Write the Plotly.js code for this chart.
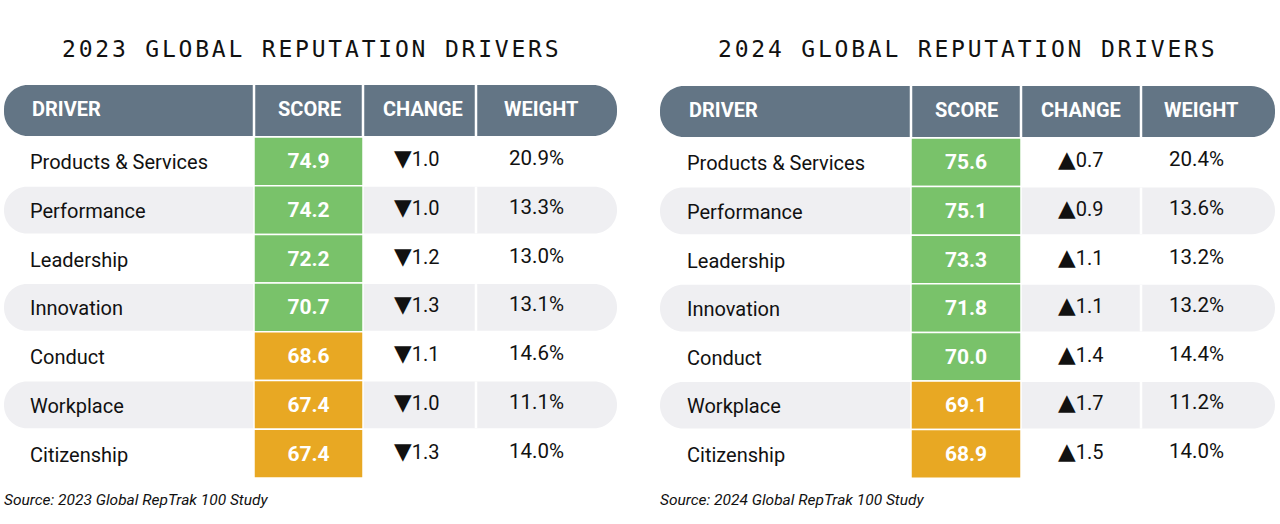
<!DOCTYPE html>
<html>
<head>
<meta charset="utf-8">
<script src="https://cdn.plot.ly/plotly-3.0.1.min.js"></script>
<style>
  html, body { margin: 0; padding: 0; background: #ffffff; }
  #chart { width: 1280px; height: 524px; }
  .annotation[data-index="0"] text, .annotation[data-index="1"] text { letter-spacing: 2.8px; }
</style>
</head>
<body>
<div id="chart"></div>
<script>
// ---------------- DATA ----------------
const drivers = ["Products & Services", "Performance", "Leadership", "Innovation", "Conduct", "Workplace", "Citizenship"];
const headers = ["DRIVER", "SCORE", "CHANGE", "WEIGHT"];
const titles = ["2023 GLOBAL REPUTATION DRIVERS", "2024 GLOBAL REPUTATION DRIVERS"];
const sources = ["Source: 2023 Global RepTrak 100 Study", "Source: 2024 Global RepTrak 100 Study"];

const score2023 = [74.9, 74.2, 72.2, 70.7, 68.6, 67.4, 67.4];
const change2023 = [-1.0, -1.0, -1.2, -1.3, -1.1, -1.0, -1.3];
const weight2023 = [20.9, 13.3, 13.0, 13.1, 14.6, 11.1, 14.0];

const score2024 = [75.6, 75.1, 73.3, 71.8, 70.0, 69.1, 68.9];
const change2024 = [0.7, 0.9, 1.1, 1.1, 1.4, 1.7, 1.5];
const weight2024 = [20.4, 13.6, 13.2, 13.2, 14.4, 11.2, 14.0];

// ---------------- LAYOUT CONFIG ----------------
const C = {
  header: "#637585", green: "#79c26a", orange: "#e8a823", band: "#efeff2", text: "#111111",
  greenMin: 70
};
const tables = [
  { title: titles[0], source: sources[0], score: score2023, change: change2023, weight: weight2023,
    cols: [4, 254, 363, 476, 617], hTop: 85, hBot: 136, rTop: 137, rH: 48.7,
    titleX: 311, driverX: 28, headX: 30, headCenters: [309, 423, 541], centers: [309, 416, 536], srcX: 2 },
  { title: titles[1], source: sources[1], score: score2024, change: change2024, weight: weight2024,
    cols: [660, 911, 1021, 1141, 1275], hTop: 86, hBot: 137, rTop: 138, rH: 48.6,
    titleX: 967, driverX: 685, headX: 687, headCenters: [966, 1081, 1201], centers: [966, 1080, 1196], srcX: 658 }
];

function pill(x0, y0, x1, y1, r) {
  const k = 0.5523 * r;
  return `M${x0 + r},${y0} L${x1 - r},${y0} C${x1 - r + k},${y0} ${x1},${y0 + r - k} ${x1},${y0 + r} ` +
         `L${x1},${y1 - r} C${x1},${y1 - r + k} ${x1 - r + k},${y1} ${x1 - r},${y1} ` +
         `L${x0 + r},${y1} C${x0 + r - k},${y1} ${x0},${y1 - r + k} ${x0},${y1 - r} ` +
         `L${x0},${y0 + r} C${x0},${y0 + r - k} ${x0 + r - k},${y0} ${x0 + r},${y0} Z`;
}

const shapes = [];
const annotations = [];
const traces = [];

// titles first (data-index 0,1 for letter-spacing CSS)
tables.forEach(t => {
  annotations.push({ x: t.titleX, y: 49, xref: "x", yref: "y", text: t.title, showarrow: false,
    xanchor: "center", yanchor: "middle",
    font: { family: "DejaVu Sans Mono, monospace", size: 23, color: "#111111" } });
});

tables.forEach(t => {
  const c = t.cols;
  // header pill
  shapes.push({ type: "path", xref: "x", yref: "y", path: pill(c[0], t.hTop, c[4], t.hBot, 24),
    fillcolor: C.header, line: { width: 0 }, layer: "below" });
  // banded rows
  drivers.forEach((d, i) => {
    if (i % 2 === 1) {
      const y0 = t.rTop + i * t.rH + 1, y1 = t.rTop + (i + 1) * t.rH - 1;
      shapes.push({ type: "path", xref: "x", yref: "y", path: pill(c[0], y0, c[4], y1, 23),
        fillcolor: C.band, line: { width: 0 }, layer: "below" });
      shapes.push({ type: "line", xref: "x", yref: "y", x0: c[3], x1: c[3], y0: y0, y1: y1,
        line: { color: "#ffffff", width: 2.5 }, layer: "below" });
    }
  });
  // header dividers
  [1, 2, 3].forEach(j => {
    shapes.push({ type: "line", xref: "x", yref: "y", x0: c[j], x1: c[j], y0: t.hTop, y1: t.hBot,
      line: { color: "#ffffff", width: 2.5 }, layer: "below" });
  });
  // header labels
  const hy = (t.hTop + t.hBot) / 2 - 2;
  annotations.push({ x: t.headX, y: hy, xref: "x", yref: "y", text: headers[0],
    showarrow: false, xanchor: "left", yanchor: "middle",
    font: { family: "Roboto, sans-serif", size: 20, color: "#ffffff", weight: 700 } });
  [1, 2, 3].forEach(j => {
    annotations.push({ x: t.headCenters[j - 1], y: hy, xref: "x", yref: "y", text: headers[j],
      showarrow: false, xanchor: "center", yanchor: "middle",
      font: { family: "Roboto, sans-serif", size: 20, color: "#ffffff", weight: 700 } });
  });
  // score cells as bars
  const tops = drivers.map((d, i) => t.rTop + i * t.rH);
  traces.push({
    type: "bar", orientation: "v",
    x: drivers.map(() => (c[1] + c[2]) / 2),
    width: drivers.map(() => c[2] - c[1]),
    base: tops, y: drivers.map(() => t.rH),
    marker: { color: t.score.map(v => v >= C.greenMin ? C.green : C.orange), line: { color: "#ffffff", width: 1.5 } },
    text: t.score.map(v => v.toFixed(1)), textposition: "inside", insidetextanchor: "middle", textangle: 0,
    insidetextfont: { family: "Roboto, sans-serif", size: 21, color: "#ffffff", weight: 700 },
    hoverinfo: "skip", showlegend: false
  });
  // row texts
  drivers.forEach((d, i) => {
    const yc = t.rTop + (i + 0.5) * t.rH;
    annotations.push({ x: t.driverX, y: yc + 1, xref: "x", yref: "y", text: d, showarrow: false,
      xanchor: "left", yanchor: "middle", font: { family: "Roboto, sans-serif", size: 20, color: C.text } });
    const ch = t.change[i];
    const tri = `<span style="font-family:'DejaVu Sans';font-size:23px">${ch < 0 ? "▼" : "▲"}</span>`;
    annotations.push({ x: t.centers[1], y: yc - 3, xref: "x", yref: "y",
      text: tri + Math.abs(ch).toFixed(1), showarrow: false,
      xanchor: "center", yanchor: "middle", font: { family: "Roboto, sans-serif", size: 20, color: C.text } });
    annotations.push({ x: t.centers[2], y: yc - 3, xref: "x", yref: "y",
      text: t.weight[i].toFixed(1) + "%", showarrow: false,
      xanchor: "center", yanchor: "middle", font: { family: "Roboto, sans-serif", size: 20.5, color: C.text } });
  });
  // source
  annotations.push({ x: t.srcX, y: 500, xref: "x", yref: "y", text: t.source, showarrow: false,
    xanchor: "left", yanchor: "middle", font: { family: "Roboto, sans-serif", size: 15.5, color: C.text, style: "italic" } });
});

const layout = {
  width: 1280, height: 524,
  margin: { l: 0, r: 0, t: 0, b: 0, pad: 0 },
  paper_bgcolor: "#ffffff", plot_bgcolor: "#ffffff",
  xaxis: { range: [0, 1280], visible: false, fixedrange: true },
  yaxis: { range: [524, 0], visible: false, fixedrange: true },
  barmode: "overlay",
  showlegend: false,
  shapes: shapes,
  annotations: annotations
};

Plotly.newPlot("chart", traces, layout, { displayModeBar: false, staticPlot: true });
</script>
</body>
</html>
